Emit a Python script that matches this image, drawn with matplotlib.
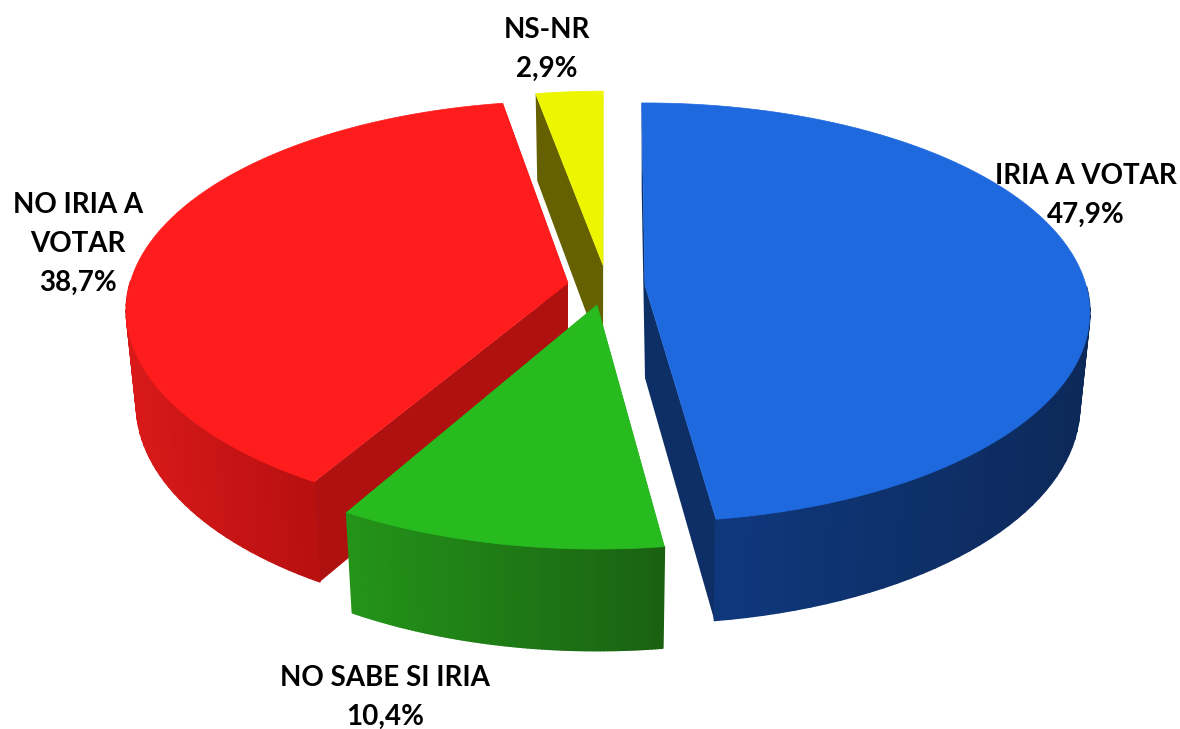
import matplotlib
matplotlib.use('Agg')
import matplotlib.pyplot as plt
import numpy as np
from matplotlib.collections import PolyCollection

labels = ['IRIA A\u00a0VOTAR', 'NO SABE SI IRIA', 'NO IRIA A\nVOTAR', 'NS-NR']
values = [47.9, 10.4, 38.7, 2.9]

# exploded slices: apex of each slice on the canvas, size change from the perspective,
# and a small turn in degrees because the slices do not line up exactly
apex_x = [645, 597, 568, 603]
apex_y = [285, 305, 283, 265]
scale_x = [1.0, 1.01, 0.993, 0.955]
scale_y = [1.0, 1.03, 1.0, 0.955]
turn = [-0.5, 0.0, 1.1, 0.4]

top_colors = ['#1F69DE', '#27BB1F', '#FF1C1C', '#EEF500']
face_colors = ['#0E2F66', '#1F8A18', '#AF1010', '#656000']
wall_left = [(0.06, 0.22, 0.49), (0.14, 0.58, 0.10), (0.85, 0.10, 0.10), (0.40, 0.38, 0.0)]
wall_right = [(0.05, 0.16, 0.35), (0.10, 0.38, 0.07), (0.72, 0.06, 0.06), (0.40, 0.38, 0.0)]

label_x = [1086, 385, 78, 547]
label_y = [175, 677, 204, 29]

# perspective of the pie plane
radius_x = 441
radius_y = 205.9
k = 0.131
depth = 93


def rim(t, i):
    s = 1 / (1 + k * np.cos(t))
    return radius_x * np.sin(t) * s * scale_x[i], -radius_y * np.cos(t) * s * scale_y[i]


def lower(x, y):
    return x * 0.977, depth + y * 1.035


fig = plt.figure(figsize=(11.8, 7.29), dpi=100)
ax = fig.add_axes([0, 0, 1, 1])
ax.set_xlim(0, 1180)
ax.set_ylim(729, 0)
ax.axis('off')

total = 0
edges = []
for v in values:
    edges.append((total, total + v))
    total += v

# back to front so the green slice sits on top
for i in [3, 2, 0, 1]:
    t0 = np.radians(edges[i][0] * 3.6 + turn[i])
    t1 = np.radians(edges[i][1] * 3.6 + turn[i])
    t = np.linspace(t0, t1, 90)
    x, y = rim(t, i)
    bx, by = lower(x, y)
    ax0, ay0 = apex_x[i], apex_y[i]
    low_ax, low_ay = lower(0, 0)

    # flat cut faces
    for j in [0, -1]:
        face = [(ax0, ay0), (ax0 + x[j], ay0 + y[j]), (ax0 + bx[j], ay0 + by[j]), (ax0 + low_ax, ay0 + low_ay)]
        ax.fill(*zip(*face), color=face_colors[i], lw=0)

    # curved wall in narrow strips, shaded from left to right (back half is hidden)
    quads = []
    cols = []
    front = np.cos(t) < 0
    if front.any():
        xmin, xmax = x[front].min(), x[front].max()
    for n in range(len(t) - 1):
        if not front[n]:
            continue
        quads.append([(ax0 + x[n], ay0 + y[n]), (ax0 + x[n + 1], ay0 + y[n + 1]),
                      (ax0 + bx[n + 1], ay0 + by[n + 1]), (ax0 + bx[n], ay0 + by[n])])
        f = np.clip(((x[n] + x[n + 1]) / 2 - xmin) / (xmax - xmin), 0, 1)
        cols.append(tuple(np.array(wall_left[i]) * (1 - f) + np.array(wall_right[i]) * f))
    if quads:
        ax.add_collection(PolyCollection(quads, facecolors=cols, edgecolors=cols, linewidths=1.2))

    # top of the slice
    ax.fill(np.r_[ax0, ax0 + x], np.r_[ay0, ay0 + y], color=top_colors[i], lw=0.5)

    pct = f'{values[i]:.1f}%'.replace('.', ',')
    ax.text(label_x[i], label_y[i] - 12, labels[i] + '\n' + pct, ha='center', va='top',
            fontsize=20, fontweight='bold', family='Lato', color='black', linespacing=1.62)

fig.savefig('out.png', dpi=100)
